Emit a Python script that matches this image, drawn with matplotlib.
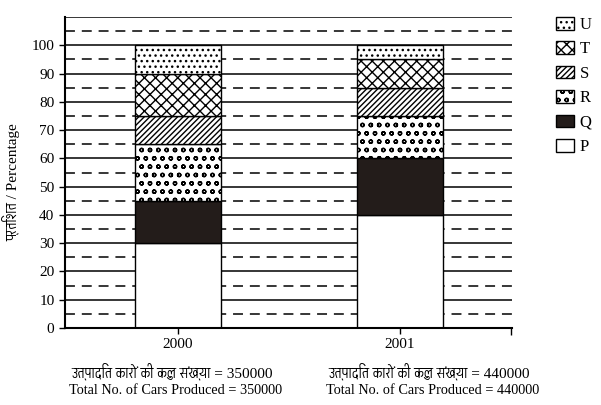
import matplotlib
matplotlib.use('Agg')
import matplotlib.pyplot as plt
from matplotlib import font_manager
from matplotlib.ft2font import FT2Font
from matplotlib.patches import Patch

# look for any installed font that has Devanagari glyphs
deva = []
for f in font_manager.fontManager.ttflist:
    try:
        if 0x0915 in FT2Font(f.fname).get_charmap():
            deva.append(f.name)
    except Exception:
        pass
fams = ['Liberation Serif'] + sorted(set(deva))[:1] + ['DejaVu Sans']
plt.rcParams['font.family'] = fams

years = ['2000', '2001']
companies = ['P', 'Q', 'R', 'S', 'T', 'U']
shares = {
    'P': [30, 40],
    'Q': [15, 20],
    'R': [20, 15],
    'S': [10, 10],
    'T': [15, 10],
    'U': [10, 5],
}
totals = [350000, 440000]

styles = {
    'P': dict(facecolor='white', hatch=''),
    'Q': dict(facecolor='#231c1a', hatch=''),
    'R': dict(facecolor='white', hatch='oo'),
    'S': dict(facecolor='white', hatch='//////'),
    'T': dict(facecolor='white', hatch='xxx'),
    'U': dict(facecolor='white', hatch='...'),
}

fig = plt.figure(figsize=(6.01, 4.05), dpi=100)
ax = fig.add_axes([0.108, 0.19, 0.744, 0.768])

for v in range(10, 111, 10):
    ax.axhline(v, color='black', lw=1.1, zorder=0)
for v in range(5, 110, 10):
    ax.axhline(v, color='black', lw=1.1, ls=(0, (6.5, 4.5)), zorder=0)

x = [0, 1]
bottom = [0, 0]
for c in companies:
    ax.bar(x, shares[c], 0.39, bottom=bottom, edgecolor='black', lw=1.0,
           zorder=2, **styles[c])
    bottom = [b + s for b, s in zip(bottom, shares[c])]

ax.set_xlim(-0.509, 1.505)
ax.set_ylim(0, 110)
ax.set_yticks(range(0, 101, 10))
ax.set_xticks(x)
ax.set_xticklabels(years)
ax.set_xticks([1.5], minor=True)
ax.tick_params(labelsize=11, length=4, width=1)
ax.tick_params(axis='x', which='minor', length=5, width=1)
ax.spines['right'].set_visible(False)
ax.spines['top'].set_visible(False)
ax.spines['left'].set_linewidth(1.5)
ax.spines['bottom'].set_linewidth(1.5)
ax.set_ylabel('प्रतिशत / Percentage', fontsize=11)
ax.yaxis.set_label_coords(-0.1, 0.47)

handles = [Patch(edgecolor='black', lw=1.0, label=c, **styles[c])
           for c in companies[::-1]]
ax.legend(handles=handles, loc='upper left', bbox_to_anchor=(1.098, 1.0),
          frameon=False, fontsize=12, handlelength=1.08, handleheight=0.78,
          handletextpad=0.35, labelspacing=0.5, borderpad=0, borderaxespad=0)

for xs, t in zip([0.118, 0.546], totals):
    fig.text(xs, 1 - 372 / 405, 'उत्पादित कारों की कुल संख्या = %d' % t,
             fontsize=11, va='center')
    fig.text(xs - 0.004, 1 - 390 / 405, 'Total No. of Cars Produced = %d' % t,
             fontsize=10.3, va='center')

fig.savefig('out.png', dpi=100)
